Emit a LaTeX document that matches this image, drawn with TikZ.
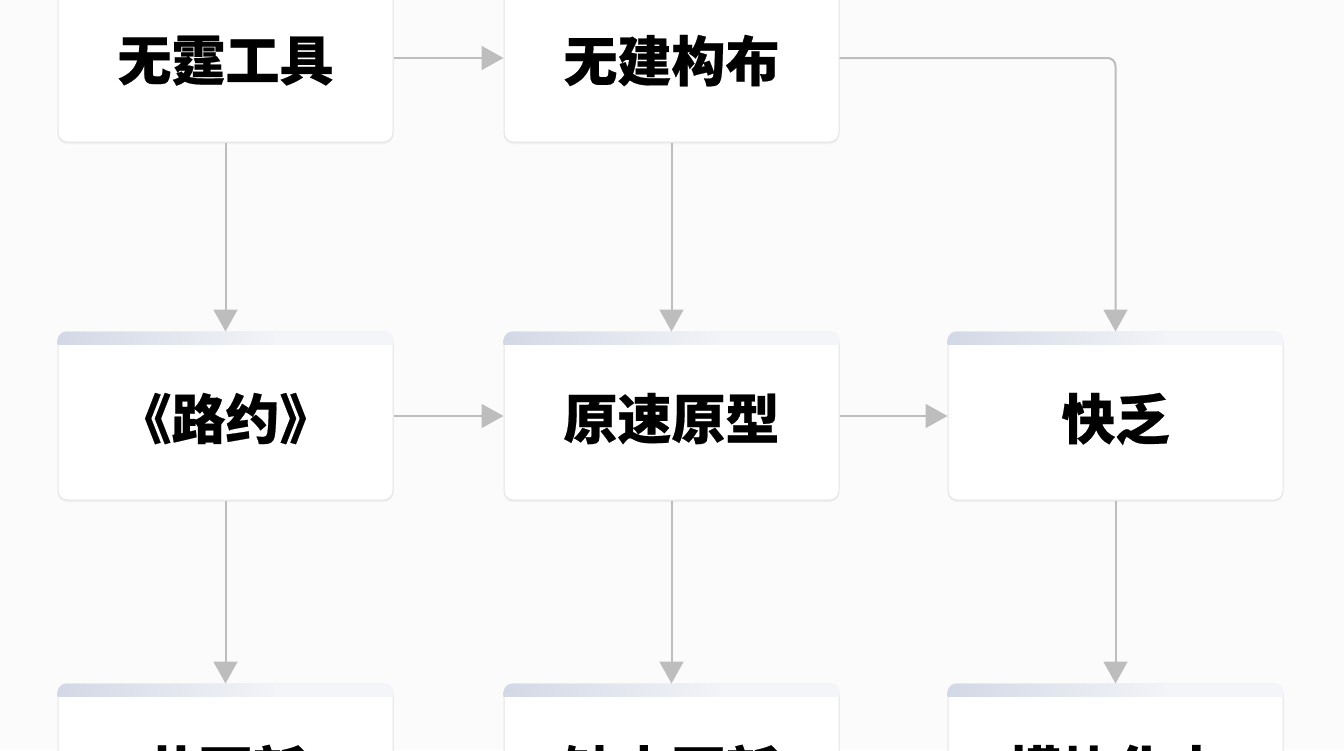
\documentclass[tikz,border=0pt]{standalone}
\usepackage{fontspec}
\setmainfont{Noto Sans CJK SC}[BoldFeatures={FakeBold=0.4}]
\usetikzlibrary{positioning,arrows.meta,shadows}
\definecolor{edgegray}{HTML}{BDBDBD}
\definecolor{boxline}{HTML}{E4E4E4}
\definecolor{stripe}{HTML}{D3D8E6}
\tikzset{
  box/.style={rectangle, rounded corners=9pt, draw=boxline, line width=1pt, fill=white,
    minimum width=335pt, minimum height=168pt, font=\fontsize{54}{58}\selectfont\bfseries,
    text depth=0pt, drop shadow={shadow xshift=0pt, shadow yshift=-2pt, opacity=0.08}},
  connect/.style={-{Triangle[length=22pt,width=24pt]}, draw=edgegray, line width=2pt}
}
\newcommand{\stripebar}[1]{%
  \begin{scope}
    \clip[rounded corners=9pt] (#1.north west) rectangle ([yshift=-40pt]#1.north east);
    \shade[left color=stripe, right color=stripe!30] (#1.north west) rectangle ([yshift=-13pt,xshift=-120pt]#1.north east);
    \fill[stripe!25] ([xshift=-120pt]#1.north east) rectangle ([yshift=-13pt]#1.north east);
  \end{scope}}
\begin{document}
\begin{tikzpicture}[x=1pt,y=-1pt]
\fill[white!97!gray] (0,0) rectangle (1344,750);
\useasboundingbox (0,0) rectangle (1344,750);
  \node[box] (tool)  at (225.5,58) {无霆工具};
  \node[box] (arch)  at (671.5,58) {无建构布};
  \node[box] (road)  at (225.5,416) {《路约》};
  \node[box] (proto) at (671.5,416) {原速原型};
  \node[box] (lack)  at (1115.5,416) {快乏};
  \node[box] (upd)   at (225.5,768) {共更新};
  \node[box] (miss)  at (671.5,768) {缺少更新};
  \node[box] (mod)   at (1115.5,768) {模块化支};
  % header stripes
  \stripebar{road}
  \stripebar{proto}
  \stripebar{lack}
  \stripebar{upd}
  \stripebar{miss}
  \stripebar{mod}
  \draw[connect] (tool) -- (arch);
  \draw[connect] (road) -- (proto);
  \draw[connect] (proto) -- (lack);
  \draw[connect] (tool) -- (road);
  \draw[connect] (arch) -- (proto);
  \draw[connect] (road) -- (upd);
  \draw[connect] (proto) -- (miss);
  \draw[connect] (lack) -- (mod);
  \draw[connect, rounded corners=8pt] (arch.east) -| (lack.north);
\end{tikzpicture}
\end{document}
